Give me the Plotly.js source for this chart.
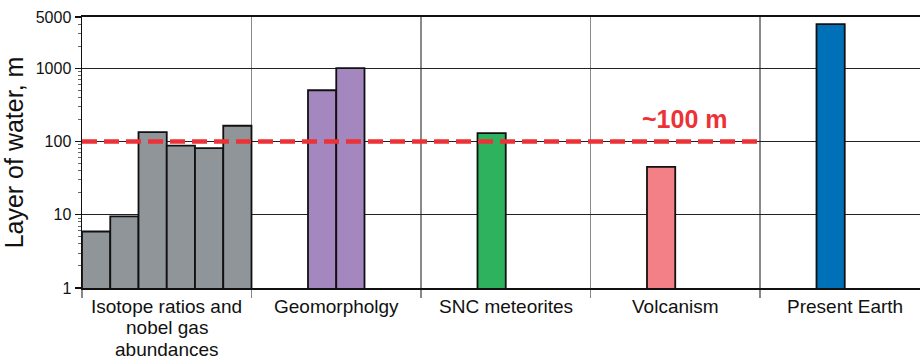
<!DOCTYPE html>
<html>
<head>
<meta charset="utf-8">
<script src="https://cdn.plot.ly/plotly-3.0.1.min.js"></script>
<style>
  html, body { margin: 0; padding: 0; background: #fff; }
  #chart { width: 921px; height: 359px; }
</style>
</head>
<body>
<div id="chart"></div>
<script>
// Estimates of the global equivalent layer of water on Mars, by method
const categories = [
  "Isotope ratios and<br>nobel gas<br>abundances",
  "Geomorpholgy",
  "SNC meteorites",
  "Volcanism",
  "Present Earth"
];
const isotopeValues = [5.9, 9.5, 134, 88, 81, 164];
const geomorphologyValues = [500, 1000];
const sncValues = [130];
const volcanismValues = [45];
const presentEarthValues = [4000];

const groupValues = [isotopeValues, geomorphologyValues, sncValues, volcanismValues, presentEarthValues];
const groupColors = ["#8f9598", "#a387be", "#2fb25e", "#f38086", "#0070b9"];
const firstSlot = [0, 2, 2, 2, 2];
const slotsPerCategory = 6;

const referenceLevel = 100;
const yTickValues = [1, 10, 100, 1000, 5000];
const yTickText = ["1", "10", "100", "1000", "5000"];
const yMinorTicks = [2, 3, 4, 5, 6, 7, 8, 9, 20, 30, 40, 50, 60, 70, 80, 90,
                     200, 300, 400, 500, 600, 700, 800, 900, 2000, 3000, 4000];

const categoryBoundaries = categories.map((_, i) => i);

const traces = groupValues.map((vals, g) => ({
  type: "bar",
  x: vals.map((_, k) => g + (firstSlot[g] + k + 0.5) / slotsPerCategory),
  y: vals,
  width: 1 / slotsPerCategory,
  marker: { color: groupColors[g], line: { color: "#111", width: 1.8 } },
  hoverinfo: "y",
  showlegend: false
}));

// Category names under each column, one annotation per text line
const labelFont = { family: "Liberation Sans, Arial, sans-serif", size: 19, color: "#111" };
const lineStep = 21.3;
const annotations = [];
categories.forEach((cat, i) => {
  cat.split("<br>").forEach((line, j) => {
    annotations.push({
      xref: "x", yref: "paper",
      x: i + 0.5, y: 0,
      xanchor: "center", yanchor: "top",
      yshift: -6 - j * lineStep,
      text: line, showarrow: false,
      font: labelFont
    });
  });
});

annotations.push({
  xref: "x", yref: "y",
  x: 3.557, y: Math.log10(referenceLevel),
  xanchor: "center", yanchor: "bottom",
  yshift: 6,
  text: "<b>~" + referenceLevel + " m</b>",
  showarrow: false,
  font: { family: "Liberation Sans, Arial, sans-serif", size: 25, color: "#ec3237" }
});

const layout = {
  width: 921, height: 359,
  margin: { l: 82, r: 1, t: 17, b: 71 },
  paper_bgcolor: "#fff", plot_bgcolor: "#fff",
  bargap: 0,
  xaxis: {
    type: "linear",
    range: [0, 4.944],
    tickvals: categoryBoundaries,
    showticklabels: false,
    ticks: "outside", ticklen: 8, tickwidth: 1.5, tickcolor: "#888",
    showgrid: true, gridcolor: "#8a8a8a", gridwidth: 1.5,
    showline: true, linecolor: "#111", linewidth: 2, mirror: true,
    zeroline: false, fixedrange: true
  },
  yaxis: {
    type: "log",
    range: [0, Math.log10(5000)],
    tickvals: yTickValues, ticktext: yTickText,
    ticks: "outside", ticklen: 6, tickwidth: 1.3, tickcolor: "#111",
    tickfont: { family: "Liberation Sans, Arial, sans-serif", size: 16, color: "#111" },
    minor: { tickvals: yMinorTicks, ticks: "outside", ticklen: 3, tickwidth: 1, tickcolor: "#666", showgrid: false },
    showgrid: true, gridcolor: "#222", gridwidth: 1,
    showline: true, linecolor: "#111", linewidth: 1.5,
    zeroline: false, fixedrange: true,
    title: {
      text: "Layer of water, m",
      font: { family: "Liberation Sans, Arial, sans-serif", size: 25, color: "#111" },
      standoff: 5
    }
  },
  shapes: [{
    type: "line", layer: "above",
    xref: "x", yref: "y",
    x0: 0, x1: categories.length - 1,
    y0: referenceLevel, y1: referenceLevel,
    line: { color: "#ec3237", width: 4.5, dash: "15px,7px" }
  }],
  annotations: annotations
};

Plotly.newPlot("chart", traces, layout, { displayModeBar: false, staticPlot: true });
</script>
</body>
</html>
